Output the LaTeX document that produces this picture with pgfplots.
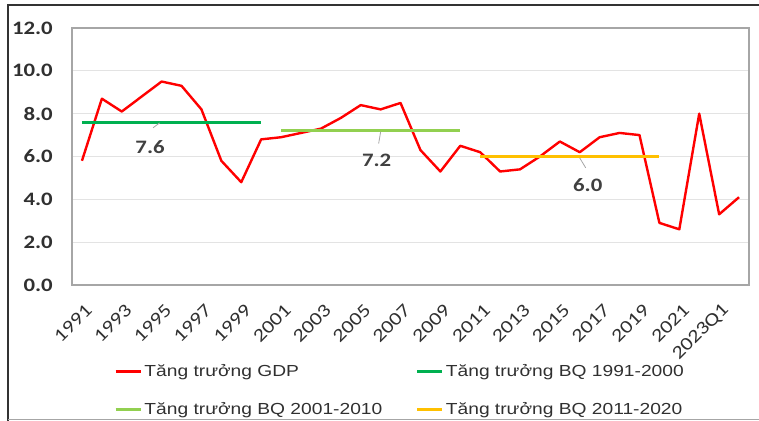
\documentclass[border=0pt]{standalone}
\usepackage{fontspec}
\setmainfont[FakeStretch=1.2]{Liberation Sans}
\newfontfamily\tickfont[FakeStretch=1.2]{Carlito}
\usepackage{pgfplots}
\pgfplotsset{compat=1.18}
\definecolor{gdpred}{HTML}{FF0000}
\definecolor{avgA}{HTML}{00B050}
\definecolor{avgB}{HTML}{92D050}
\definecolor{avgC}{HTML}{FFC000}
\definecolor{gridgray}{HTML}{E3E3E3}
\definecolor{framegray}{HTML}{A6A6A6}
\definecolor{ticktext}{HTML}{303030}
\definecolor{labeltext}{HTML}{404040}
\definecolor{leadergray}{HTML}{A6A6A6}
\begin{document}
\begin{tikzpicture}[x=1bp,y=1bp]
\begin{axis}[
  at={(72bp,136bp)}, anchor=south west,
  scale only axis, width=677bp, height=257bp,
  xmin=-0.5, xmax=33.5, ymin=0, ymax=12,
  xtick={0,2,...,32},
  xticklabels={1991,1993,1995,1997,1999,2001,2003,2005,2007,2009,2011,2013,2015,2017,2019,2021,2023Q1},
  ytick={0,2,...,12},
  ymajorgrids, grid style={draw=gridgray, line width=1bp},
  major tick length=0pt,
  axis line style={draw=framegray, line width=1.3bp},
  /pgf/number format/assume math mode=true,
  yticklabel={\pgfmathprintnumber[fixed,fixed zerofill,precision=1]{\tick}},
  yticklabel style={font=\tickfont\bfseries\fontsize{19bp}{22bp}\selectfont, text=ticktext, inner sep=0pt, anchor=east, xshift=-19bp},
  xticklabel style={font=\tickfont\fontsize{18.5bp}{21bp}\selectfont, text=ticktext, inner sep=0pt, xshift=7bp, yshift=-22bp, rotate=45, anchor=east},
  legend columns=2,
  legend cell align=left,
  legend image code/.code={\draw[#1] (0bp,0bp) -- (25bp,0bp);},
  legend style={at={(axis description cs:0.062,-0.3)}, anchor=north west, draw=none, fill=none,
    inner sep=0pt, row sep=20bp,
    font=\fontsize{16bp}{18bp}\selectfont, text=ticktext,
    nodes={inner sep=2.3bp},
    /tikz/every even column/.append style={column sep=31bp}},
  clip=false,
]
\addplot[gdpred, line width=2.4bp, line join=round] table[x=i, y=v] {
i v
0 5.8
1 8.7
2 8.1
3 8.8
4 9.5
5 9.3
6 8.2
7 5.8
8 4.8
9 6.8
10 6.9
11 7.1
12 7.3
13 7.8
14 8.4
15 8.2
16 8.5
17 6.3
18 5.3
19 6.5
20 6.2
21 5.3
22 5.4
23 6.0
24 6.7
25 6.2
26 6.9
27 7.1
28 7.0
29 2.9
30 2.6
31 8.0
32 3.3
33 4.1
};
\addlegendentry{Tăng trưởng GDP}
\addplot[avgA, line width=3bp] coordinates {(0,7.6) (9,7.6)};
\addlegendentry{Tăng trưởng BQ 1991-2000}
\addplot[avgB, line width=3bp] coordinates {(10,7.2) (19,7.2)};
\addlegendentry{Tăng trưởng BQ 2001-2010}
\addplot[avgC, line width=3bp] coordinates {(20,6.0) (29,6.0)};
\addlegendentry{Tăng trưởng BQ 2011-2020}
\draw[leadergray, line width=0.8bp] (axis cs:3.57,7.34) -- (axis cs:3.9,7.57);
\draw[leadergray, line width=0.8bp] (axis cs:14.9,6.6) -- (axis cs:15.0,7.15);
\draw[leadergray, line width=0.8bp] (axis cs:25.0,5.93) -- (axis cs:25.3,5.47);
\node[font=\tickfont\bfseries\fontsize{19bp}{22bp}\selectfont, text=labeltext] at (axis cs:3.42,6.45) {7.6};
\node[font=\tickfont\bfseries\fontsize{19bp}{22bp}\selectfont, text=labeltext] at (axis cs:14.8,5.84) {7.2};
\node[font=\tickfont\bfseries\fontsize{19bp}{22bp}\selectfont, text=labeltext] at (axis cs:25.4,4.67) {6.0};
\end{axis}
\draw[draw=black!80, line width=2bp] (8bp,0bp) -- (8bp,416bp) -- (759bp,416bp);
\draw[draw=black!35, line width=1bp] (8bp,1.5bp) -- (759bp,1.5bp);
\pgfresetboundingbox
\useasboundingbox (0,0) rectangle (759bp,421bp);
\end{tikzpicture}
\end{document}
